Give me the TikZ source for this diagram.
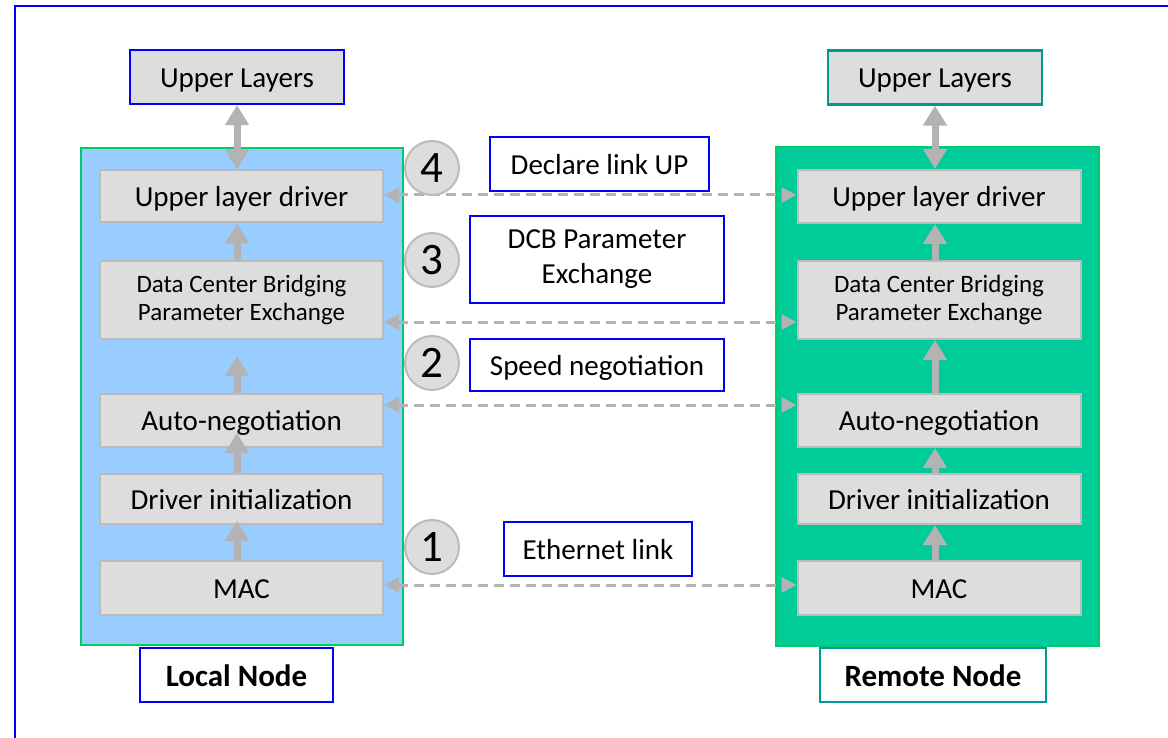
\documentclass[tikz,border=0pt]{standalone}
\usepackage{fontspec}
\setmainfont{Carlito}
\usetikzlibrary{arrows.meta}
\definecolor{boxgray}{HTML}{DDDDDD}
\definecolor{edgegray}{HTML}{BBBBBB}
\definecolor{arrowgray}{HTML}{B3B3B3}
\definecolor{localfill}{HTML}{99CCFF}
\definecolor{remotefill}{HTML}{00CC99}
\definecolor{panelgreen}{HTML}{00CC66}
\definecolor{tealedge}{HTML}{009999}
\definecolor{frameblue}{HTML}{0000FF}
\begin{document}
\begin{tikzpicture}[x=1pt,y=-1pt,
  layerbox/.style={draw=edgegray, fill=boxgray, line width=2pt, minimum width=283pt,
    inner sep=0pt, align=center, font=\fontsize{29}{34}\selectfont},
  oneline/.style={text height=20.5pt, text depth=0pt},
  smalltext/.style={font=\fontsize{25}{28}\selectfont},
  upperbox/.style={fill=boxgray, line width=2.2pt, minimum width=214pt, minimum height=54pt,
    inner sep=0pt, font=\fontsize{29}{34}\selectfont, oneline},
  panel/.style={draw=panelgreen, line width=1.5pt},
  stepcircle/.style={circle, draw=edgegray, fill=boxgray, line width=2pt, minimum size=54pt,
    inner sep=0pt, font=\fontsize{45}{48}\selectfont, text height=29pt, text depth=0pt},
  notebox/.style={draw=frameblue, fill=white, line width=2.2pt, inner sep=0pt, align=center,
    font=\fontsize{29}{35}\selectfont},
  namebox/.style={fill=white, line width=2.2pt, minimum height=54pt, inner sep=0pt,
    font=\fontsize{31}{36}\selectfont\bfseries, text height=22pt, text depth=0pt},
  stackarrow/.style={draw=arrowgray, line width=7pt, -{Triangle[length=20pt,width=23pt]}},
  linkarrow/.style={draw=arrowgray, line width=3pt, dash pattern=on 10pt off 6pt,
    {Triangle[length=15pt,width=15pt]}-{Triangle[length=15pt,width=15pt]}}
]
\useasboundingbox (0,0) rectangle (1168,738);

% outer frame
\draw[frameblue, line width=2.5pt] (1168,6) -- (15,6) -- (15,738);

% node panels
\draw[panel, fill=localfill] (81,148) rectangle (403,645);
\draw[panel, fill=remotefill] (776,147) rectangle (1099,646);

% local stack
\node[upperbox, draw=frameblue] (upL) at (237,77) {Upper Layers};
\node[layerbox, oneline, minimum height=52pt] (uldL) at (241.5,196.5) {Upper layer driver};
\node[layerbox, minimum height=78pt, smalltext] (dcbL) at (241.5,300) {Data Center Bridging\\Parameter Exchange};
\node[layerbox, oneline, minimum height=53pt] (anL) at (241.5,420.5) {Auto-negotiation};
\node[layerbox, oneline, minimum height=50pt] (diL) at (241.5,499) {Driver initialization};
\node[layerbox, oneline, minimum height=54pt] (macL) at (241.5,588) {MAC};

% remote stack
\node[upperbox, draw=tealedge] (upR) at (935,77.5) {Upper Layers};
\node[layerbox, oneline, minimum height=53pt] (uldR) at (939,196.5) {Upper layer driver};
\node[layerbox, minimum height=78pt, smalltext] (dcbR) at (939,300) {Data Center Bridging\\Parameter Exchange};
\node[layerbox, oneline, minimum height=53pt] (anR) at (939,420.5) {Auto-negotiation};
\node[layerbox, oneline, minimum height=50pt] (diR) at (939,499) {Driver initialization};
\node[layerbox, oneline, minimum height=54pt] (macR) at (939,588) {MAC};

% node names
\node[namebox, draw=frameblue, minimum width=193pt] (localname) at (236.5,675) {Local Node};
\node[namebox, draw=tealedge, minimum width=226pt] (remotename) at (933,675) {Remote Node};

% vertical arrows, local side
\draw[stackarrow, {Triangle[length=20pt,width=23pt]}-{Triangle[length=20pt,width=23pt]}] (upL.south) -- (upL.south |- uldL.north);
\draw[stackarrow] (dcbL.north -| upL.south) -- (uldL.south -| upL.south);
\draw[stackarrow] (anL.north -| upL.south) -- ([yshift=-16pt]dcbL.south -| upL.south);
\draw[stackarrow] (diL.north -| upL.south) -- ([yshift=15pt]anL.south -| upL.south);
\draw[stackarrow] (macL.north -| upL.south) -- ([yshift=4pt]diL.south -| upL.south);

% vertical arrows, remote side
\draw[stackarrow, {Triangle[length=20pt,width=23pt]}-{Triangle[length=20pt,width=23pt]}] (upR.south) -- (upR.south |- uldR.north);
\draw[stackarrow] (dcbR.north -| upR.south) -- (uldR.south -| upR.south);
\draw[stackarrow] (anR.north -| upR.south) -- (dcbR.south -| upR.south);
\draw[stackarrow] (diR.north -| upR.south) -- (anR.south -| upR.south);
\draw[stackarrow] (macR.north -| upR.south) -- (diR.south -| upR.south);

% link arrows between the two stacks
\draw[linkarrow] ([yshift=1.5pt]uldL.east) -- ([yshift=1.5pt]uldR.west);
\draw[linkarrow] ([yshift=-22pt]dcbL.east) -- ([yshift=-22pt]dcbR.west);
\draw[linkarrow] ([yshift=15.5pt]anL.east) -- ([yshift=15.5pt]anR.west);
\draw[linkarrow] ([yshift=3pt]macL.east) -- ([yshift=3pt]macR.west);

% step markers
\node[stepcircle] (s4) at (432,168) {4};
\node[stepcircle] (s3) at (432,260) {3};
\node[stepcircle] (s2) at (432,363) {2};
\node[stepcircle] (s1) at (432,547) {1};

% step descriptions
\node[notebox, oneline, minimum width=219pt, minimum height=54pt] (n4) at (599.5,164) {Declare link UP};
\node[notebox, minimum width=254pt, minimum height=87pt] (n3) at (597,259.5) {DCB Parameter\\Exchange};
\node[notebox, oneline, minimum width=254pt, minimum height=52pt] (n2) at (597,365) {Speed negotiation};
\node[notebox, oneline, minimum width=188pt, minimum height=54pt] (n1) at (598,549) {Ethernet link};
\end{tikzpicture}
\end{document}
